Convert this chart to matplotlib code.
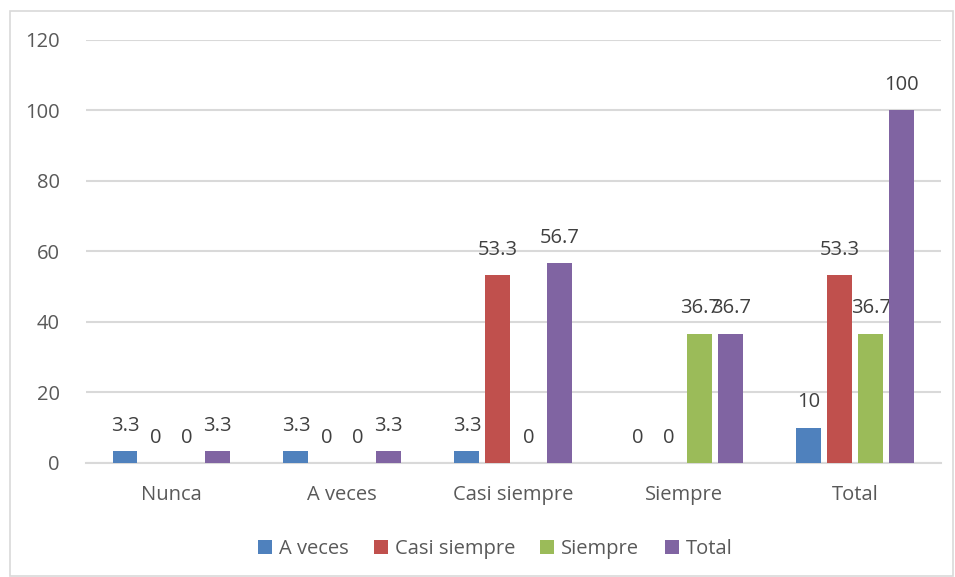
"""Frecuencia por categoria - barras agrupadas"""
import numpy as np
import matplotlib
matplotlib.use("Agg")
import matplotlib.pyplot as plt
from matplotlib.patches import Rectangle

categorias = ["Nunca", "A veces", "Casi siempre", "Siempre", "Total"]
series = ["A veces", "Casi siempre", "Siempre", "Total"]
a_veces = [3.3, 3.3, 3.3, 0, 10]
casi_siempre = [0, 0, 53.3, 0, 53.3]
siempre = [0, 0, 0, 36.7, 36.7]
total = [3.3, 3.3, 56.7, 36.7, 100]
valores = [a_veces, casi_siempre, siempre, total]
colores = ["#4F81BD", "#C0504D", "#9BBB59", "#8064A2"]

plt.rcParams["font.family"] = ["Open Sans", "DejaVu Sans"]
TXT = "#595959"
FS = 14.5

fig = plt.figure(figsize=(9.55, 5.77), dpi=100)
ax = fig.add_axes([0.090, 0.1976, 0.895, 0.7331])

x = np.arange(len(categorias))
ancho = 0.146
paso = 0.181
for i, (nombre, vals, col) in enumerate(zip(series, valores, colores)):
    pos = x + (i - 1.5) * paso
    ax.bar(pos, vals, ancho, color=col, label=nombre, zorder=3)
    for xb, v in zip(pos, vals):
        etiqueta = "0" if v == 0 else ("%g" % v)
        # los 36.7 de "Siempre" se pisan igual que en el original
        ax.annotate(etiqueta, (xb, v), xytext=(0, 11), textcoords="offset points",
                    ha="center", va="bottom", fontsize=FS, color="#404040")

ax.set_xlim(-0.5, len(categorias) - 0.5)
ax.set_ylim(0, 120)
ax.set_yticks(range(0, 121, 20))
ax.set_xticks(x)
ax.set_xticklabels(categorias)
ax.yaxis.grid(True, color="#D9D9D9", linewidth=1.5, zorder=0)
ax.tick_params(axis="both", length=0, labelsize=FS, colors=TXT)
ax.tick_params(axis="y", pad=19)
ax.tick_params(axis="x", pad=16)
for lado in ["top", "right", "left"]:
    ax.spines[lado].set_visible(False)
ax.spines["bottom"].set_color("#D9D9D9")
ax.spines["bottom"].set_linewidth(1.5)

fig.legend(loc="center", bbox_to_anchor=(495 / 955, 1 - 549 / 577), ncol=4,
           frameon=False, fontsize=FS, handlelength=0.7, handleheight=0.7,
           handletextpad=0.35, columnspacing=1.25, labelcolor=TXT)

fig.patches.append(Rectangle((10 / 955, 0.002), 0.987, 1 - 11 / 577 - 0.002,
                             transform=fig.transFigure, fill=False,
                             edgecolor="#D9D9D9", linewidth=1.2))

fig.savefig("out.png", dpi=100)
